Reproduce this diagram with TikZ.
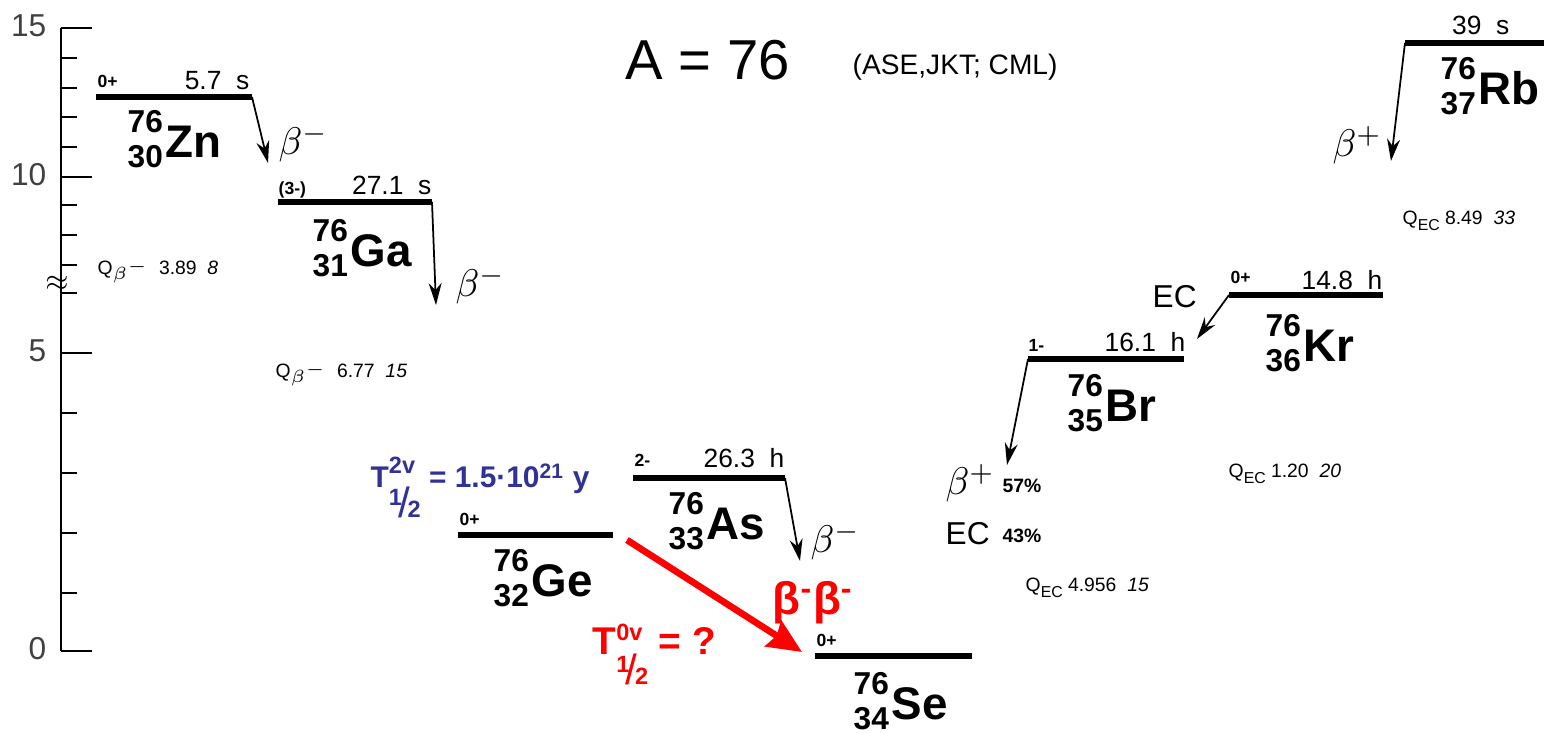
\documentclass[tikz,border=0pt]{standalone}
\usepackage{fontspec}
\setmainfont{Liberation Sans}
\usetikzlibrary{arrows.meta, positioning}

\definecolor{tblue}{RGB}{50,50,150}
\definecolor{tred}{RGB}{255,0,0}

% nuclide symbol: mass over charge, element to the right
\newcommand{\nuclide}[3]{%
  {\fontsize{9}{10.2}\selectfont\begin{tabular}[b]{@{}r@{}}#1\\#2\end{tabular}}%
  \hspace{0.8pt}\raisebox{3pt}{\fontsize{13}{14}\selectfont #3}}
% half-life T with a superscript and a 1/2 below it
\newcommand{\thalf}[1]{T\makebox[0pt][l]{\raisebox{4pt}{\fontsize{6.7}{7}\selectfont #1}}%
  \raisebox{-8.5pt}{\fontsize{6.7}{7}\selectfont\makebox[0pt][l]{\raisebox{3.6pt}{1}}\kern2.6pt{\fontsize{12}{12}\selectfont\mdseries /}\kern-0.6pt 2}}

\begin{document}
\begin{tikzpicture}[
    x=0.01cm, y=-0.01cm,
    level/.style={line width=1.8pt},
    decay/.style={line width=0.5pt, -{Stealth[length=2.2mm, width=1.3mm]}},
    bbdecay/.style={draw=tred, line width=1.9pt, -{Stealth[length=3.4mm, width=3mm, inset=0.4mm]}},
    nuc/.style={font=\bfseries, inner sep=0, anchor=base west},
    spin/.style={font=\fontsize{5}{5}\selectfont\bfseries, inner sep=0, anchor=base west},
    life/.style={font=\fontsize{7.5}{8}\selectfont, inner sep=0, anchor=base east},
    qval/.style={font=\fontsize{5.5}{6}\selectfont, inner sep=0, anchor=base west},
    mode/.style={font=\fontsize{11}{11}\selectfont, inner sep=0, anchor=base west},
    ecmode/.style={font=\fontsize{9}{9}\selectfont, inner sep=0, anchor=base west},
    axislabel/.style={font=\fontsize{9}{9}\selectfont, text=black!75, inner sep=0, anchor=base east}
]
\useasboundingbox (0,0) rectangle (1544,734);

% ─── Energy axis ─────────────────────────────────────────────────────
\draw[line width=0.7pt] (61,28) -- (61,651);
\foreach \y in {58, 88, 117, 147, 205, 235, 265, 293, 413, 473, 533, 593}
    \draw[line width=0.8pt] (61,\y) -- (77,\y);
\foreach \y/\e in {28/15, 177/10, 353/5, 651/0} {
    \draw[line width=0.8pt] (61,\y) -- (92,\y);
    \node[axislabel] (e\e) at (47,\y+9) {\e};
}
\node[inner sep=0, font=\fontsize{8}{8}\selectfont] (brk) at (57,283) {$\approx$};

% ─── Title ───────────────────────────────────────────────────────────
\node[inner sep=0, anchor=base west, font=\fontsize{16}{16}\selectfont] (title) at (625,80) {A = 76};
\node[inner sep=0, anchor=base west, font=\fontsize{8}{8}\selectfont] (refs) at (852,75) {(ASE,JKT; CML)};

% ─── Levels ──────────────────────────────────────────────────────────
\foreach \n/\xa/\xb/\y in {zn/96/252/97, ga/278/432/202, ge/458/613/535, as/633/785/478,
                           se/815/972/656, br/1028/1184/359, kr/1229/1383/295, rb/1405/1544/43} {
    \coordinate (\n-l) at (\xa,\y);
    \coordinate (\n-r) at (\xb,\y);
    \draw[level] (\n-l) -- (\n-r);
}

% spins and half-lives
\node[spin] (zn-j) at (97,88) {0+};
\node[life] (zn-t) at (250,90) {5.7\ \ s};
\node[spin] (ga-j) at (278,195) {(3-)};
\node[life] (ga-t) at (432,195) {27.1\ \ s};
\node[spin] (ge-j) at (459,526) {0+};
\node[spin] (as-j) at (634,467) {2-};
\node[life] (as-t) at (785,468) {26.3\ \ h};
\node[spin] (se-j) at (816,647) {0+};
\node[spin] (br-j) at (1028,352) {1-};
\node[life] (br-t) at (1186,352) {16.1\ \ h};
\node[spin] (kr-j) at (1230,284) {0+};
\node[life] (kr-t) at (1383,290) {14.8\ \ h};
\node[life] (rb-t) at (1510,35) {39\ \ s};

% nuclide names
\node[nuc] (zn) at (127,168) {\nuclide{76}{30}{Zn}};
\node[nuc] (ga) at (312,277) {\nuclide{76}{31}{Ga}};
\node[nuc] (ge) at (493,607) {\nuclide{76}{32}{Ge}};
\node[nuc] (as) at (668,550) {\nuclide{76}{33}{As}};
\node[nuc] (se) at (853,730) {\nuclide{76}{34}{Se}};
\node[nuc] (br) at (1067,432) {\nuclide{76}{35}{Br}};
\node[nuc] (kr) at (1265,372) {\nuclide{76}{36}{Kr}};
\node[nuc] (rb) at (1440,115) {\nuclide{76}{37}{Rb}};

% ─── Decays ──────────────────────────────────────────────────────────
\coordinate (zn-end) at (268,163);
\coordinate (ga-end) at (436,305);
\coordinate (as-end) at (800,561);
\coordinate (br-end) at (1007,465);
\coordinate (kr-end) at (1197,339);
\coordinate (rb-end) at (1391,161);
\draw[decay] (zn-r) -- (zn-end);
\draw[decay] (ga-r) -- (ga-end);
\draw[decay] (as-r) -- (as-end);
\draw[decay] (br-l) -- (br-end);
\draw[decay] (kr-l) -- (kr-end);
\draw[decay] (rb-l) -- (rb-end);

\node[mode] (zn-m) at (278,155) {$\beta^-$};
\node[mode] (ga-m) at (455,297) {$\beta^-$};
\node[mode] (as-m) at (810,553) {$\beta^-$};
\node[mode] (rb-m) at (1332,157) {$\beta^+$};
\node[mode] (br-m) at (945,495) {$\beta^+$};
\node[qval, font=\fontsize{5.5}{6}\selectfont\bfseries] (br-p) at (1002,493) {57\%};
\node[ecmode] (br-ec) at (945,545) {EC};
\node[qval, font=\fontsize{5.5}{6}\selectfont\bfseries] (br-q) at (1002,543) {43\%};
\node[ecmode] (kr-ec) at (1152,308) {EC};

% Q values
\node[qval] (q-zn) at (97,275) {Q\raisebox{-0.4ex}{$\scriptscriptstyle\beta^-$}\ \ 3.89\ \ \textit{8}};
\node[qval] (q-ga) at (275,378) {Q\raisebox{-0.4ex}{$\scriptscriptstyle\beta^-$}\ \ 6.77\ \ \textit{15}};
\node[qval] (q-br) at (1025,592) {Q\raisebox{-0.5ex}{\fontsize{4.5}{5}\selectfont EC} 4.956\ \ \textit{15}};
\node[qval] (q-kr) at (1228,478) {Q\raisebox{-0.5ex}{\fontsize{4.5}{5}\selectfont EC} 1.20\ \ \textit{20}};
\node[qval] (q-rb) at (1402,225) {Q\raisebox{-0.5ex}{\fontsize{4.5}{5}\selectfont EC} 8.49\ \ \textit{33}};

% ─── Double beta decay ───────────────────────────────────────────────
\coordinate (bb-start) at (627,540);
\coordinate (bb-end) at (802,652);
\draw[bbdecay] (bb-start) -- (bb-end);
\node[inner sep=0, anchor=base west, text=tred, font=\fontsize{13}{13}\selectfont\bfseries] (bb) at (772,615) {β\textsuperscript{-}β\textsuperscript{-}};
\node[inner sep=0, anchor=base west, text=tred, font=\fontsize{11}{11}\selectfont\bfseries] (t0v) at (592,655) {\thalf{0v}\ = ?};
\node[inner sep=0, anchor=base west, text=tblue, font=\fontsize{8.5}{9}\selectfont\bfseries] (t2v) at (370,488) {\thalf{2v}\ = 1.5·10\textsuperscript{21} y};

\end{tikzpicture}
\end{document}
